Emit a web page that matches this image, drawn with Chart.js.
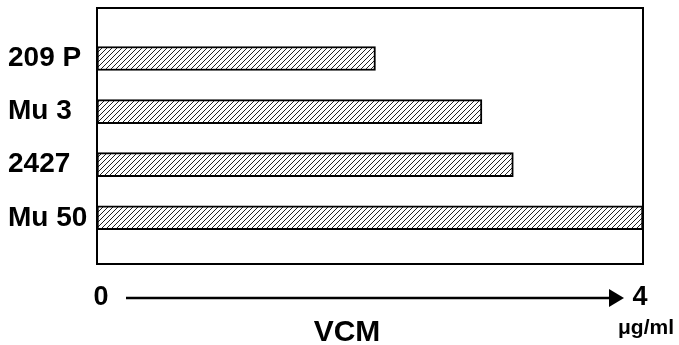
<!DOCTYPE html>
<html>
<head>
<meta charset="utf-8">
<script src="https://cdn.jsdelivr.net/npm/chart.js@4"></script>
<style>
  html, body { margin: 0; padding: 0; background: #fff; }
  #wrap { width: 679px; height: 345px; }
</style>
</head>
<body>
<div id="wrap"><canvas id="VcmChart"></canvas></div>
<script>
var strainLabels = ["209 P", "Mu 3", "2427", "Mu 50"];
var vcmValues = [2.04, 2.82, 3.05, 4];
var xTickLabels = [0, 4];
var xUnit = "\u03bcg/ml";
var xTitle = "VCM";

// diagonal hatch fill like the printed figure
function hatchPattern() {
  const c = document.createElement("canvas");
  c.width = 5;
  c.height = 5;
  const g = c.getContext("2d");
  g.fillStyle = "#fff";
  g.fillRect(0, 0, 5, 5);
  g.strokeStyle = "#222";
  g.lineWidth = 1;
  g.beginPath();
  g.moveTo(-1, 6); g.lineTo(6, -1);
  g.moveTo(-1, 1); g.lineTo(1, -1);
  g.moveTo(4, 6); g.lineTo(6, 4);
  g.stroke();
  return g.createPattern(c, "repeat");
}

const frameAndAxis = {
  id: "frameAndAxis",
  afterDraw(chart) {
    const ctx = chart.ctx;
    const a = chart.chartArea;
    const x = chart.scales.x;
    ctx.save();
    ctx.strokeStyle = "#000";
    ctx.lineWidth = 2;
    ctx.strokeRect(a.left, a.top, a.right - a.left, a.bottom - a.top);

    const x0 = x.getPixelForValue(xTickLabels[0]);
    const x1 = x.getPixelForValue(xTickLabels[1]);
    const yy = a.bottom + 34;
    ctx.fillStyle = "#000";
    ctx.font = "bold 27px 'Liberation Sans', Arial, sans-serif";
    ctx.textAlign = "center";
    ctx.textBaseline = "middle";
    ctx.fillText(String(xTickLabels[0]), x0 + 4, yy);
    ctx.fillText(String(xTickLabels[1]), x1 - 3, yy);

    // arrow
    ctx.lineWidth = 2.5;
    ctx.beginPath();
    ctx.moveTo(x0 + 29, yy);
    ctx.lineTo(x1 - 32, yy);
    ctx.stroke();
    ctx.beginPath();
    ctx.moveTo(x1 - 34, yy - 9);
    ctx.lineTo(x1 - 19, yy);
    ctx.lineTo(x1 - 34, yy + 9);
    ctx.closePath();
    ctx.fill();

    ctx.font = "bold 21px 'Liberation Sans', Arial, sans-serif";
    ctx.fillText(xUnit, x1 + 3, yy + 30);

    ctx.font = "bold 30px 'Liberation Sans', Arial, sans-serif";
    ctx.fillText(xTitle, 347, yy + 35);
    ctx.restore();
  }
};

const data_Vcm = {
  datasets: [
    {
      label: "VCM",
      data: vcmValues.map((v, i) => ({ x: v, y: i })),
      backgroundColor: hatchPattern(),
      borderColor: "#000",
      borderWidth: 2,
      borderSkipped: false,
      barThickness: 24,
    },
  ],
};

const config_Vcm = {
  type: "bar",
  data: data_Vcm,
  options: {
    indexAxis: "y",
    responsive: true,
    maintainAspectRatio: false,
    animation: false,
    layout: {
      padding: { left: 8, top: 8, right: 36, bottom: 81 },
    },
    scales: {
      x: {
        type: "linear",
        min: 0,
        max: 4,
        display: false,
      },
      y: {
        type: "linear",
        reverse: true,
        offset: false,
        min: -0.95,
        max: 3.87,
        grid: { display: false },
        border: { display: false },
        afterBuildTicks: (s) => {
          s.ticks = strainLabels.map((_, i) => ({ value: i }));
        },
        afterFit: (s) => {
          s.width = 89;
          s.paddingTop = 0;
          s.paddingBottom = 0;
        },
        ticks: {
          crossAlign: "far",
          padding: 6,
          color: "#000",
          font: { family: "'Liberation Sans', Arial, sans-serif", size: 28, weight: "bold" },
          callback: (v) => strainLabels[v],
        },
      },
    },
    plugins: {
      legend: { display: false },
      tooltip: { enabled: false },
    },
  },
  plugins: [frameAndAxis],
};

const VcmChart = new Chart(document.getElementById("VcmChart"), config_Vcm);
</script>
</body>
</html>
